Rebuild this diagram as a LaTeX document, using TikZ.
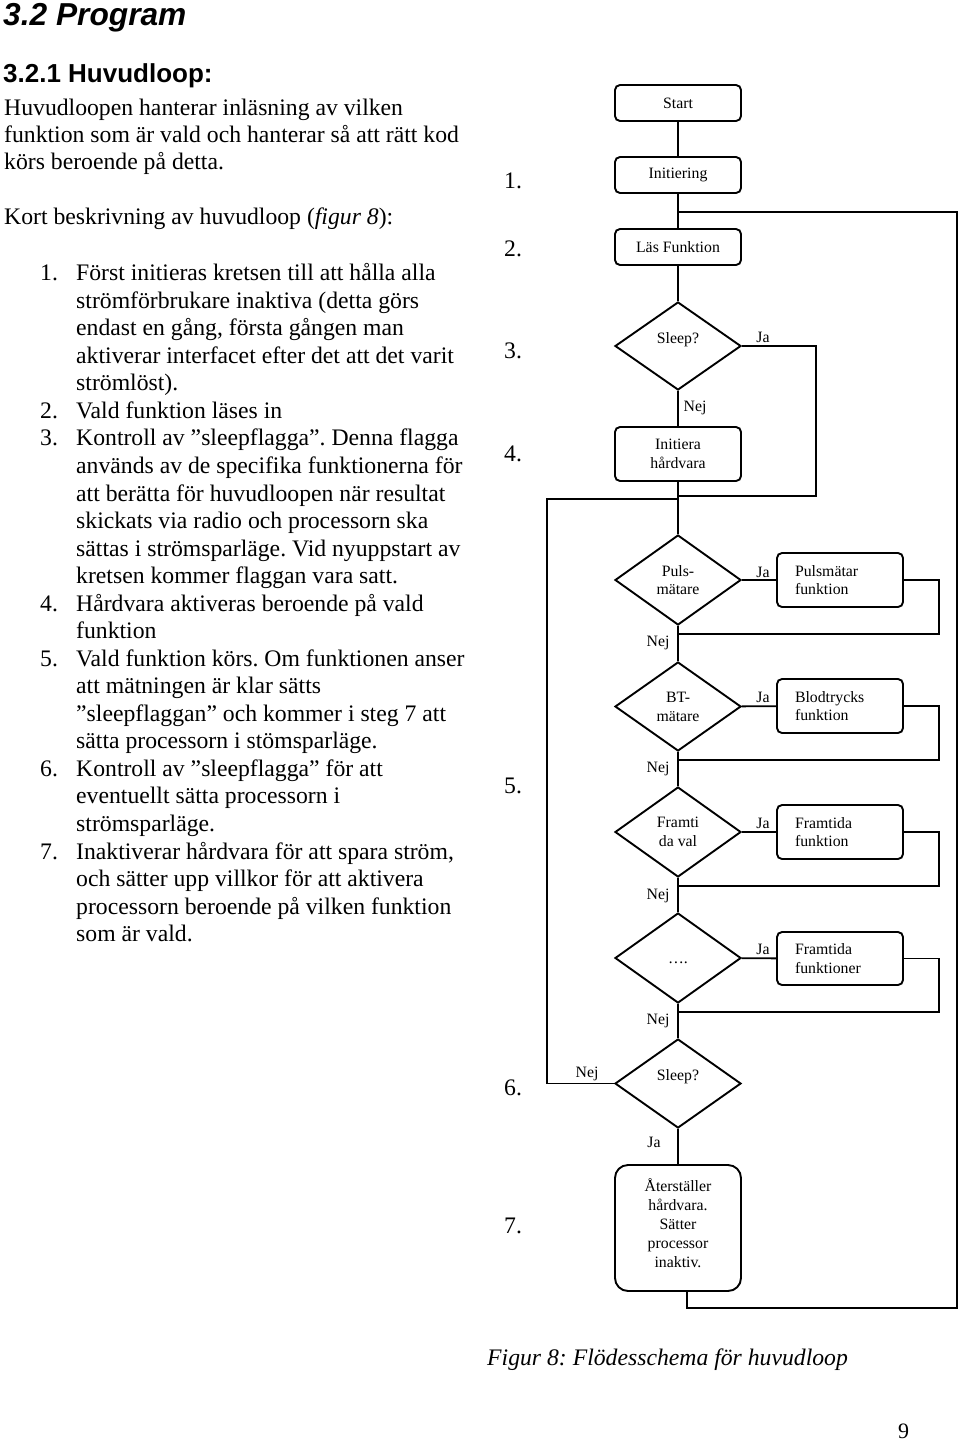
\documentclass[tikz,border=0pt]{standalone}
\usepackage{fontspec}
\setmainfont{Liberation Serif}
\newfontfamily\headfont{Liberation Sans}
\usetikzlibrary{shapes.geometric}
\frenchspacing
\begin{document}
\begin{tikzpicture}[x=1pt,y=-1pt,
  body/.style={anchor=base west, inner sep=0pt, font={\fontsize{23.7}{27.54}\selectfont}},
  ftxt/.style={font={\fontsize{15.8}{18.8}\selectfont}},
  procbox/.style={draw, line width=1.9pt, rounded corners=5pt, minimum width=126pt, minimum height=36pt, inner sep=0pt, align=center, ftxt},
  funcbox/.style={draw, line width=1.9pt, rounded corners=5pt, minimum width=126pt, minimum height=54pt, inner xsep=18pt, inner ysep=0pt, text width=90pt, align=left, ftxt},
  decbox/.style={draw, diamond, line width=1.9pt, minimum width=126pt, minimum height=89pt, inner sep=0pt, align=center, ftxt},
  conn/.style={line width=1.9pt},
  lbl/.style={ftxt, inner sep=0pt}
]
\useasboundingbox (0,0) rectangle (960,1440);

% ---------- headings and text ----------
\node[anchor=base west, inner sep=0pt, font={\headfont\fontsize{31.7}{36}\selectfont\bfseries\itshape}] (h1) at (3,25.5) {3.2 Program};
\node[anchor=base west, inner sep=0pt, font={\headfont\fontsize{26}{30}\selectfont\bfseries}] (h2) at (3,82) {3.2.1 Huvudloop:};

\node[body] (p1) at (4,115) {Huvudloopen hanterar inläsning av vilken};
\node[body] (p2) at (4,142) {funktion som är vald och hanterar så att rätt kod};
\node[body] (p3) at (4,169) {körs beroende på detta.};
\node[body] (p4) at (4,224) {Kort beskrivning av huvudloop (\textit{figur 8}):};

\node[body] (n1) at (40,280.7) {1.};
\node[body] (t0) at (76,280.7) {Först initieras kretsen till att hålla alla};
\node[body] (t1) at (76,308.24) {strömförbrukare inaktiva (detta görs};
\node[body] (t2) at (76,335.78) {endast en gång, första gången man};
\node[body] (t3) at (76,363.32) {aktiverar interfacet efter det att det varit};
\node[body] (t4) at (76,390.86) {strömlöst).};
\node[body] (n2) at (40,418.4) {2.};
\node[body] (t5) at (76,418.4) {Vald funktion läses in};
\node[body] (n3) at (40,445.94) {3.};
\node[body] (t6) at (76,445.94) {Kontroll av ”sleepflagga”. Denna flagga};
\node[body] (t7) at (76,473.48) {används av de specifika funktionerna för};
\node[body] (t8) at (76,501.02) {att berätta för huvudloopen när resultat};
\node[body] (t9) at (76,528.56) {skickats via radio och processorn ska};
\node[body] (t10) at (76,556.1) {sättas i strömsparläge. Vid nyuppstart av};
\node[body] (t11) at (76,583.64) {kretsen kommer flaggan vara satt.};
\node[body] (n4) at (40,611.18) {4.};
\node[body] (t12) at (76,611.18) {Hårdvara aktiveras beroende på vald};
\node[body] (t13) at (76,638.72) {funktion};
\node[body] (n5) at (40,666.26) {5.};
\node[body] (t14) at (76,666.26) {Vald funktion körs. Om funktionen anser};
\node[body] (t15) at (76,693.8) {att mätningen är klar sätts};
\node[body] (t16) at (76,721.34) {”sleepflaggan” och kommer i steg 7 att};
\node[body] (t17) at (76,748.88) {sätta processorn i stömsparläge.};
\node[body] (n6) at (40,776.42) {6.};
\node[body] (t18) at (76,776.42) {Kontroll av ”sleepflagga” för att};
\node[body] (t19) at (76,803.96) {eventuellt sätta processorn i};
\node[body] (t20) at (76,831.5) {strömsparläge.};
\node[body] (n7) at (40,859.04) {7.};
\node[body] (t21) at (76,859.04) {Inaktiverar hårdvara för att spara ström,};
\node[body] (t22) at (76,886.58) {och sätter upp villkor för att aktivera};
\node[body] (t23) at (76,914.12) {processorn beroende på vilken funktion};
\node[body] (t24) at (76,941.66) {som är vald.};

% ---------- step numbers ----------
\node[body] (s1) at (504,188) {1.};
\node[body] (s2) at (504,256) {2.};
\node[body] (s3) at (504,358) {3.};
\node[body] (s4) at (504,461) {4.};
\node[body] (s5) at (504,793) {5.};
\node[body] (s6) at (504,1095) {6.};
\node[body] (s7) at (504,1233) {7.};

% ---------- flowchart nodes ----------
\node[procbox] (start) at (678,103) {Start};
\node[procbox] (init) at (678,175) {Initiering};
\node[procbox] (las) at (678,247) {Läs Funktion};
\node[decbox, minimum height=88pt] (sleep1) at (678,346) {Sleep?\\[-2pt]\mbox{}};
\node[procbox, minimum height=54pt] (inithw) at (678,454) {Initiera\\hårdvara};
\node[decbox, minimum height=90pt] (puls) at (678,580) {Puls-\\mätare};
\node[funcbox] (pbox) at (840,580) {Pulsmätar\\funktion};
\node[decbox] (bt) at (678,706.5) {BT-\\mätare};
\node[funcbox] (bbox) at (840,706) {Blodtrycks\\funktion};
\node[decbox, minimum height=90pt] (fr) at (678,832) {Framti\\da val};
\node[funcbox] (fbox) at (840,832) {Framtida\\funktion};
\node[decbox, minimum height=90pt] (dots) at (678,958) {\rule{0pt}{11pt}….};
\node[funcbox, minimum height=53pt] (dbox) at (840,958.5) {Framtida\\funktioner};
\node[decbox] (sleep2) at (678,1083.5) {Sleep?\\[-2pt]\mbox{}};
\node[procbox, minimum height=126pt, rounded corners=13pt] (reset) at (678,1228) {Återställer\\hårdvara.\\Sätter\\processor\\inaktiv.\\[-9pt]\mbox{}};

% ---------- labels ----------
\node[lbl] (ja1) at (763,337) {Ja};
\node[lbl] (nej1) at (695,408) {Nej};
\node[lbl] (ja2) at (763,572) {Ja};
\node[lbl] (ja3) at (763,697) {Ja};
\node[lbl] (ja4) at (763,823) {Ja};
\node[lbl] (ja5) at (763,949) {Ja};
\node[lbl] (nej2) at (658,643) {Nej};
\node[lbl] (nej3) at (658,769) {Nej};
\node[lbl] (nej4) at (658,896) {Nej};
\node[lbl] (nej5) at (658,1021) {Nej};
\node[lbl] (nej6) at (587,1074) {Nej};
\node[lbl] (ja6) at (654,1142) {Ja};

% ---------- connector coordinates ----------
\coordinate (j1) at (678,212);
\coordinate (j2) at (678,496);
\coordinate (j3) at (678,499);
\coordinate (c1) at (816,496);
\coordinate (lft) at (547,499);
\coordinate (r1) at (939,634);
\coordinate (m1) at (678,634);
\coordinate (r2) at (939,760);
\coordinate (m2) at (678,760);
\coordinate (r3) at (939,886);
\coordinate (m3) at (678,886);
\coordinate (r4) at (939,1012);
\coordinate (m4) at (678,1012);
\coordinate (rb) at (687,1308);
\coordinate (rr) at (957,1308);

% ---------- connectors ----------
\draw[conn] (start) -- (init);
\draw[conn] (init) -- (las);
\draw[conn] (las) -- (sleep1);
\draw[conn] (sleep1.east) -| (c1) -- (j2);
\draw[conn] (sleep1) -- (inithw);
\draw[conn] (inithw) -- (puls);
\draw[conn] (sleep2.west) -| (lft) -- (j3);
\draw[conn] (puls) -- (pbox);
\draw[conn] (pbox.east) -| (r1) -- (m1);
\draw[conn] (puls) -- (bt);
\draw[conn] (bt) -- (bbox);
\draw[conn] (bbox.east) -| (r2) -- (m2);
\draw[conn] (bt) -- (fr);
\draw[conn] (fr) -- (fbox);
\draw[conn] (fbox.east) -| (r3) -- (m3);
\draw[conn] (fr) -- (dots);
\draw[conn] (dots) -- (dbox);
\draw[conn] (dbox.east) -| (r4) -- (m4);
\draw[conn] (dots) -- (sleep2);
\draw[conn] (sleep2) -- (reset);
\draw[conn] (reset.south -| rb) -- (rb) -- (rr) |- (j1);

% ---------- caption ----------
\node[body, font={\fontsize{23.7}{27.54}\selectfont\itshape}] (cap) at (487,1365) {Figur 8: Flödesschema för huvudloop};
\node[body, font={\fontsize{22}{26}\selectfont}] (pg) at (898,1438) {9};
\end{tikzpicture}
\end{document}
